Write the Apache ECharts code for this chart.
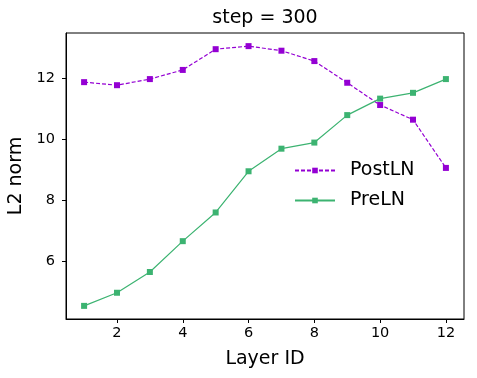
<!DOCTYPE html>
<html><head><meta charset="utf-8">
<script src="https://cdn.jsdelivr.net/npm/echarts@6/dist/echarts.min.js"></script>
<style>html,body{margin:0;padding:0;background:#fff}#c{width:477px;height:378px}</style>
</head><body><div id="c"></div>
<script>
const layers = [1,2,3,4,5,6,7,8,9,10,11,12];
const postLN = [11.88,11.78,11.98,12.28,12.96,13.06,12.91,12.57,11.86,11.13,10.65,9.07];
const preLN = [4.55,4.98,5.66,6.67,7.61,8.96,9.70,9.90,10.80,11.34,11.53,11.98];
const xTicks = [2,4,6,8,10,12];
const yTicks = [6,8,10,12];
const F = 'DejaVu Sans';
const chart = echarts.init(document.getElementById('c'), null, {renderer:'canvas'});
chart.setOption({
  animation:false,
  backgroundColor:'#fff',
  title:{text:'step = 300', left:265, textAlign:'center', top:9, padding:0,
    textStyle:{fontFamily:F, fontSize:19, fontWeight:'normal', color:'#000'}},
  grid:{left:66, right:13, top:33, bottom:59, show:true, borderColor:'#000', borderWidth:1,
    containLabel:false, outerBoundsMode:'none'},
  legend:{orient:'vertical', left:294, top:161, padding:0, itemWidth:40, itemHeight:7, itemGap:11,
    textStyle:{fontFamily:F, fontSize:19, color:'#000', padding:[0,0,0,10]},
    data:['PostLN','PreLN']},
  xAxis:{type:'value', min:0.45, max:12.55,
    name:'Layer ID', nameLocation:'middle', nameGap:31,
    nameTextStyle:{fontFamily:F, fontSize:19, color:'#000'},
    axisLine:{show:true, lineStyle:{color:'#000', width:1}},
    axisTick:{show:true, length:4, inside:false, customValues:xTicks, lineStyle:{color:'#000'}},
    axisLabel:{fontFamily:F, fontSize:14.5, color:'#000', margin:7, customValues:xTicks},
    splitLine:{show:false}},
  yAxis:{type:'value', min:4.12, max:13.49,
    name:'L2 norm', nameLocation:'middle', nameGap:38,
    nameTextStyle:{fontFamily:F, fontSize:19, color:'#000'},
    axisLine:{show:true, lineStyle:{color:'#000', width:1}},
    axisTick:{show:true, length:4, inside:false, customValues:yTicks, lineStyle:{color:'#000'}},
    axisLabel:{fontFamily:F, fontSize:14.5, color:'#000', margin:11, customValues:yTicks},
    splitLine:{show:false}},
  series:[
    {name:'PostLN', type:'line', data:layers.map((x,i)=>[x,postLN[i]]),
      symbol:'rect', symbolSize:6, showAllSymbol:true,
      lineStyle:{color:'#9400D3', width:1.2, type:[4,2]},
      itemStyle:{color:'#9400D3'}},
    {name:'PreLN', type:'line', data:layers.map((x,i)=>[x,preLN[i]]),
      symbol:'rect', symbolSize:6, showAllSymbol:true,
      lineStyle:{color:'#3CB371', width:1.2},
      itemStyle:{color:'#3CB371'}}
  ]
});
</script></body></html>
